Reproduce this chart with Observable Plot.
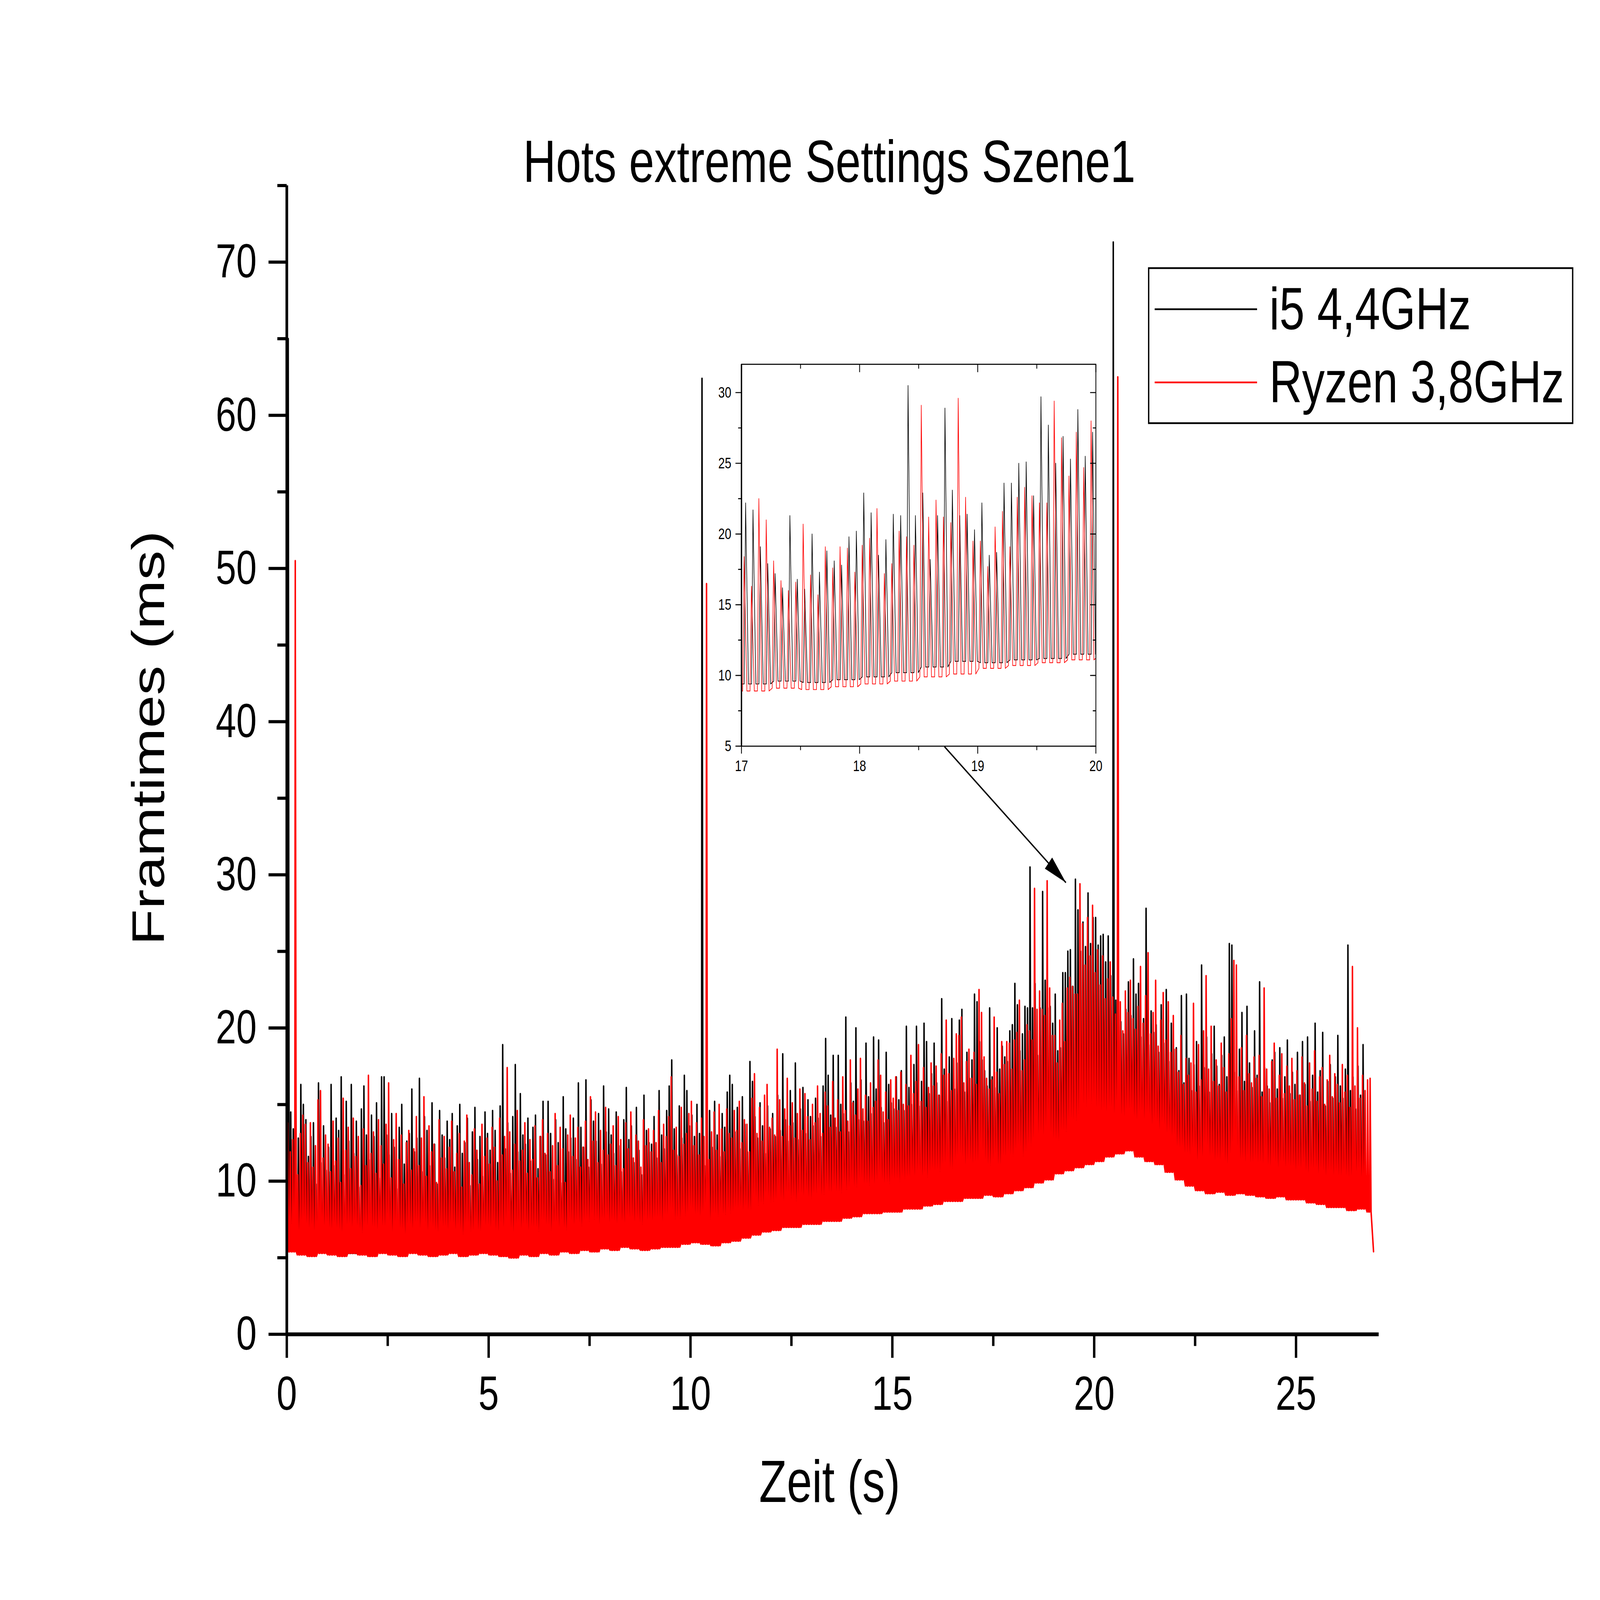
<!DOCTYPE html>
<html>
<head>
<meta charset="utf-8">
<script src="https://cdn.jsdelivr.net/npm/d3@7"></script>
<script src="https://cdn.jsdelivr.net/npm/@observablehq/plot@0.6"></script>
<style>
html,body{margin:0;padding:0;background:#fff;overflow:hidden;}
#wrap{position:relative;overflow:hidden;background:#fff;}
#root{position:absolute;left:0;top:0;width:6000px;height:4592px;overflow:hidden;background:#fff;font-family:"Liberation Sans",Arial,sans-serif;color:#000;transform-origin:0 0;}
.abs{position:absolute;white-space:nowrap;line-height:1;}
</style>
</head>
<body>
<div id="wrap"><div id="root"></div></div>
<script>
// ---------------- DATA ----------------
const seriesNames = ["i5 4,4GHz", "Ryzen 3,8GHz"];
const seriesColors = ["#000000", "#ff0000"];

// spike (frame-time peak) values, 16 per second
const i5Peaks = [
  65,14.5,13.4,14.6,12.8,16.3,15.0,14.0,11.6,12.9,13.8,9.8,16.4,11.2,13.6,10.7,
  12.2,16.3,11.0,14.1,13.3,16.8,10.4,15.2,12.6,16.3,11.8,13.9,9.6,14.7,16.2,13.0,
  11.4,14.3,12.9,15.1,10.2,16.8,16.8,13.0,11.7,14.4,12.2,9.5,13.5,15.0,11.1,12.6,
  13.1,16.0,11.9,12.8,16.7,10.6,14.2,13.3,11.0,15.1,12.4,9.8,14.6,13.0,11.5,13.9,
  12.7,14.4,10.9,13.6,15.0,11.8,12.5,14.1,9.7,13.2,14.8,11.4,12.9,10.3,14.5,13.1,
  12.0,14.6,13.3,11.2,14.9,18.9,12.1,13.8,10.5,14.2,17.6,11.9,15.7,13.0,12.4,14.1,
  11.3,13.5,14.3,10.8,12.9,15.2,11.7,15.2,13.1,10.1,14.0,12.5,9.9,15.5,13.4,11.9,
  12.8,14.1,11.4,16.4,13.5,12.2,16.6,10.9,15.3,13.9,12.6,14.4,11.1,16.2,13.2,14.7,
  13.0,11.8,14.5,12.3,10.6,14.0,16.1,12.7,13.6,11.2,14.8,12.0,10.4,15.6,13.3,12.5,
  12.4,14.2,11.5,15.9,13.0,12.1,14.6,16.2,17.9,13.4,11.7,14.9,12.8,16.9,15.9,13.6,
  14.3,12.9,15.0,13.1,62.4,11.0,13.8,14.6,12.2,15.2,13.0,11.6,14.4,13.5,15.8,16.9,
  16.3,13.2,14.8,12.1,15.5,13.7,11.9,17.8,16.5,14.2,12.8,15.1,13.6,11.8,14.9,13.4,
  14.4,12.9,15.6,13.3,18.3,14.0,12.6,15.9,13.8,17.7,12.7,14.7,16.1,13.1,15.3,14.2,
  13.6,15.4,14.1,12.9,16.2,19.3,16.9,14.3,18.2,13.5,18.2,15.0,14.4,20.7,13.2,16.4,
  15.2,20.0,14.0,16.6,13.9,19.0,15.5,14.4,19.4,16.0,19.2,14.8,13.8,18.4,16.3,15.1,
  14.7,16.8,15.3,17.2,14.6,20.1,16.1,15.0,17.6,20.1,14.9,16.5,20.3,19.1,15.7,17.0,
  19.0,16.4,15.6,21.9,17.3,15.2,18.1,20.6,16.0,17.7,20.5,21.2,15.8,18.4,16.7,17.9,
  22.2,21.7,19.1,17.9,17.2,16.2,21.3,16.8,16.1,20.0,17.3,18.8,18.1,17.8,19.8,20.2,
  22.9,21.5,18.5,19.6,21.4,21.3,30.5,21.3,22.9,18.2,21.3,28.9,23.1,21.3,21.4,20.3,
  22.2,18.5,18.7,23.6,23.6,25.0,25.1,22.7,29.7,27.7,25.0,26.9,25.3,28.8,25.5,27.2,
  27.2,25.4,26.0,26.1,24.3,26.0,23.4,71.3,21.8,22.5,20.4,19.6,21.2,23.0,20.8,24.5,
  22.2,22.9,19.4,20.6,27.8,18.9,21.1,19.7,20.2,18.4,21.5,19.0,22.5,17.8,20.3,18.6,
  18.7,17.2,22.1,16.4,22.2,18.0,15.9,17.6,19.1,16.2,24.1,17.4,19.4,15.8,18.3,20.1,
  17.5,16.3,18.2,19.4,16.8,25.5,25.4,17.1,15.9,18.6,21.0,16.5,21.4,17.7,16.1,19.8,
  16.9,23.0,15.8,17.4,16.2,15.1,17.9,18.4,16.0,18.7,15.4,16.8,19.2,15.7,17.1,16.3,
  18.4,15.6,19.1,16.3,19.4,15.2,16.9,20.3,15.8,17.2,19.7,14.9,16.5,17.6,15.4,16.8,
  19.5,16.2,15.4,17.3,25.4,15.9,16.8,14.7,17.5,15.6,18.9
];
const ryzenPeaks = [
  13.8,11.9,12.7,50.5,10.4,13.1,14.3,13.7,11.2,13.8,10.9,12.3,15.3,15.9,11.5,13.0,
  12.4,10.6,13.9,11.3,12.8,9.9,15.4,12.0,13.5,10.8,14.1,11.6,12.9,9.7,13.4,11.0,
  16.9,11.8,13.2,10.5,14.0,12.3,11.1,13.7,16.4,10.2,12.7,14.4,11.4,13.0,9.8,12.5,
  13.3,10.7,12.1,14.2,11.0,12.8,15.5,10.3,13.6,11.9,12.4,9.9,14.0,11.5,12.9,10.8,
  12.2,13.9,10.6,11.8,13.1,9.6,12.6,14.3,11.2,10.4,13.4,12.0,9.8,13.7,11.6,12.8,
  11.1,13.5,12.2,10.0,14.1,11.7,12.9,17.4,13.2,10.7,12.4,14.6,11.3,12.0,13.8,10.5,
  12.7,11.4,13.6,10.2,12.9,14.0,11.8,13.1,10.6,12.3,14.4,11.0,13.5,12.1,9.9,13.0,
  14.3,11.6,12.8,13.5,10.9,12.2,13.9,11.4,15.5,12.6,14.5,11.2,13.3,12.0,14.8,11.7,
  12.4,13.6,11.0,14.2,12.7,10.8,13.8,12.1,14.5,11.5,13.0,12.6,10.9,14.0,12.3,13.4,
  11.9,13.3,12.5,14.6,11.2,13.7,12.9,14.2,16.8,12.0,13.5,11.6,14.8,12.4,13.1,14.4,
  15.2,12.3,13.8,11.7,14.1,12.9,49.0,11.4,13.2,14.5,12.0,15.0,13.4,11.9,14.7,13.1,
  12.8,14.6,13.3,15.2,12.5,14.0,13.7,11.9,15.4,17.0,13.1,14.8,12.6,15.6,16.3,13.5,
  14.1,13.0,18.6,15.3,12.9,14.7,16.7,13.6,15.1,12.8,14.4,16.0,13.3,15.7,14.2,12.7,
  15.0,13.8,16.2,14.4,13.1,15.8,14.9,13.5,16.5,14.1,15.3,13.2,16.8,14.6,13.9,17.9,
  15.1,14.3,16.0,18.0,14.7,15.6,13.9,16.4,14.8,15.2,17.9,16.9,14.5,15.8,14.0,16.6,
  15.4,16.8,14.6,17.1,15.0,16.3,14.9,18.2,15.7,16.5,18.9,15.2,17.4,14.8,16.1,17.7,
  16.2,17.5,15.6,18.3,16.9,20.5,17.0,15.9,18.0,19.6,19.5,20.7,16.4,17.8,18.6,16.7,
  18.4,16.3,22.5,21.0,18.1,16.7,16.0,16.6,20.7,17.1,15.7,19.1,17.6,19.1,19.0,17.3,
  19.2,19.7,21.8,17.2,17.9,20.2,19.8,19.2,29.1,21.2,22.4,21.2,20.8,29.6,22.6,19.5,
  19.5,17.7,20.5,21.6,19.1,22.6,23.3,22.7,22.2,22.2,29.4,26.8,24.1,27.2,24.7,28.0,
  23.6,25.1,22.8,24.7,21.9,23.2,24.3,22.0,20.9,62.5,21.7,19.8,22.4,21.0,23.1,20.6,
  19.9,21.4,24.0,20.3,22.1,24.9,19.6,21.0,23.1,18.8,20.5,22.3,19.2,21.7,18.4,20.8,
  18.6,17.1,19.5,16.3,18.0,16.9,17.7,21.6,15.8,18.9,16.6,19.8,23.4,17.3,20.1,16.5,
  17.9,16.2,19.0,17.4,15.8,18.3,20.6,24.4,24.1,16.8,18.7,15.9,19.5,17.0,16.4,18.1,
  16.7,18.2,15.5,22.6,17.3,16.0,17.8,19.0,15.4,16.9,18.3,15.7,17.5,16.2,18.0,15.3,
  17.2,15.6,18.1,16.4,14.9,17.7,16.0,18.5,15.2,16.8,17.4,15.0,16.6,18.2,15.5,17.0,
  16.3,15.1,17.6,15.8,16.9,14.8,24.0,16.2,20.0,15.4,16.9,15.9,16.6,16.7
];
// baseline frame time between spikes, one value per quarter second
const i5Base = [
  5.7,5.5,5.4,5.6,5.5,5.4,5.3,5.5,5.6,5.4,5.3,5.5,5.6,5.4,5.3,5.5,5.4,5.3,5.6,5.4,
  5.4,5.6,5.3,5.5,5.6,5.4,5.5,5.6,5.5,5.7,5.6,5.8,5.7,5.9,5.8,6.0,5.9,6.0,6.0,6.2,
  6.2,6.4,6.1,6.3,6.4,6.6,6.8,7.0,7.1,7.3,7.3,7.5,7.6,7.8,7.8,8.0,8.1,8.3,8.3,8.5,
  8.5,8.7,8.7,8.9,8.9,9.2,9.2,9.4,9.4,9.6,9.5,9.7,9.9,10.2,10.6,11.0,10.9,11.1,11.2,11.5,
  11.6,11.9,11.9,12.1,11.8,11.5,11.2,10.7,10.3,9.8,9.6,9.3,9.4,9.2,9.4,9.2,9.2,9.0,9.1,8.9,
  8.9,8.7,8.6,8.4,8.4,8.2,8.3,8.2
];
const ryzenBase = [
  5.4,5.2,5.1,5.3,5.2,5.1,5.3,5.2,5.1,5.3,5.2,5.1,5.3,5.2,5.1,5.2,5.3,5.1,5.2,5.3,
  5.2,5.1,5.0,5.2,5.1,5.3,5.2,5.4,5.3,5.5,5.4,5.6,5.5,5.7,5.6,5.5,5.6,5.7,5.7,5.9,
  6.0,5.9,5.8,6.0,6.1,6.3,6.5,6.7,6.8,7.0,7.0,7.2,7.2,7.4,7.4,7.6,7.7,7.9,7.9,8.0,
  8.0,8.2,8.2,8.4,8.5,8.7,8.7,8.9,8.9,9.1,9.0,9.2,9.4,9.6,9.9,10.1,10.5,10.7,10.9,11.1,
  11.3,11.6,11.8,12.0,11.6,11.3,11.1,10.6,10.1,9.7,9.4,9.2,9.3,9.1,9.2,9.1,9.0,8.9,9.0,8.8,
  8.8,8.6,8.5,8.3,8.3,8.1,8.2,8.0
];
const basePerSecond = 4;
const peakStep = 1 / 16;          // seconds between spikes
const i5Offset = 0.035;           // time of first i5 spike (s)
const ryzenOffset = 0.022;        // time of first Ryzen spike (s)
const riseTime = 0.012, fallTime = 0.024;
const ryzenTail = [26.92, 5.4];   // last Ryzen frame (time, ms)

// axes
const xTicks = [0, 5, 10, 15, 20, 25];
const xMinor = [2.5, 7.5, 12.5, 17.5, 22.5];
const yTicks = [0, 10, 20, 30, 40, 50, 60, 70];
const yMinor = [5, 15, 25, 35, 45, 55, 65, 75];
const insetXTicks = [17, 18, 19, 20];
const insetXMinor = [17.5, 18.5, 19.5];
const insetYTicks = [5, 10, 15, 20, 25, 30];
const insetYMinor = [7.5, 12.5, 17.5, 22.5, 27.5];
// arrow from inset to the zoomed region (data coordinates: s, ms)
const arrowFrom = [16.29, 38.37];
const arrowTo = [19.30, 29.49];

// ---------------- BUILD ----------------
function build(peaks, base, offset, series) {
  const pts = [];
  peaks.forEach((p, i) => {
    const t = offset + i * peakStep;
    const b = base[Math.min(base.length - 1, Math.floor(t * basePerSecond))];
    if (t - riseTime >= 0) pts.push({t: t - riseTime, v: b, series});
    pts.push({t, v: p, series});
    pts.push({t: t + fallTime, v: b, series});
  });
  return pts;
}
const i5 = build(i5Peaks, i5Base, i5Offset, seriesNames[0]);
const ry = build(ryzenPeaks, ryzenBase, ryzenOffset, seriesNames[1]);
ry.push({t: ryzenTail[0], v: ryzenTail[1], series: seriesNames[1]});

const FONT = '"Liberation Sans", Arial, sans-serif';
const W = 6000, H = 4592;
const xMax = 27.05, yMax = 75;
const M = {top: 532, right: 830, bottom: 763, left: 1075};
const pxX = (W - M.left - M.right) / xMax;
const pxY = (H - M.top - M.bottom) / yMax;
const adx = (arrowTo[0] - arrowFrom[0]) * pxX;
const ady = (arrowFrom[1] - arrowTo[1]) * pxY;
const arrowAngle = Math.atan2(adx, -ady) * 180 / Math.PI;

const main = Plot.plot({
  width: W, height: H,
  marginTop: M.top, marginRight: M.right, marginBottom: M.bottom, marginLeft: M.left,
  x: {domain: [0, xMax], axis: null},
  y: {domain: [0, yMax], axis: null},
  style: {fontFamily: FONT, background: "white", color: "black"},
  marks: [
    Plot.line(i5, {x: "t", y: "v", stroke: seriesColors[0], strokeWidth: 5.5}),
    Plot.line(ry, {x: "t", y: "v", stroke: seriesColors[1], strokeWidth: 5.5}),
    Plot.ruleX([0], {stroke: "black", strokeWidth: 10}),
    Plot.ruleY([0], {stroke: "black", strokeWidth: 11}),
    Plot.axisX({ticks: xTicks, tickSize: 68, tickPadding: 50, fontSize: 138, strokeWidth: 9, label: null, tickFormat: d => String(d)}),
    Plot.axisX({ticks: xMinor, tickSize: 34, strokeWidth: 9, tickFormat: () => "", label: null}),
    Plot.axisY({ticks: yTicks, tickSize: 68, tickPadding: 45, fontSize: 138, strokeWidth: 9, label: null, tickFormat: d => String(d)}),
    Plot.axisY({ticks: yMinor, tickSize: 35, strokeWidth: 9, tickFormat: () => "", label: null}),
    Plot.link([{x1: arrowFrom[0], y1: arrowFrom[1], x2: arrowTo[0], y2: arrowTo[1]}],
      {x1: "x1", y1: "y1", x2: "x2", y2: "y2", stroke: "black", strokeWidth: 4.5}),
    Plot.vector([{x: arrowTo[0], y: arrowTo[1]}],
      {x: "x", y: "y", length: 86, r: 21, rotate: arrowAngle, shape: "spike", anchor: "end", fill: "black", stroke: "none"})
  ]
});
main.style.position = "absolute";
main.style.left = "0px";
main.style.top = "0px";
main.style.maxWidth = "none";

// inset (zoom of 17–20 s)
const IM = {top: 20, right: 30, bottom: 100, left: 100};
const inset = Plot.plot({
  width: 1329 + IM.left + IM.right, height: 1096 + IM.top + IM.bottom,
  marginTop: IM.top, marginRight: IM.right, marginBottom: IM.bottom, marginLeft: IM.left,
  x: {domain: [17, 20], axis: null},
  y: {domain: [5, 32], axis: null},
  style: {fontFamily: FONT, background: "transparent", color: "black"},
  marks: [
    Plot.frame({fill: "white", stroke: null}),
    Plot.line(i5.filter(d => d.t > 16.8 && d.t < 20.2), {x: "t", y: "v", stroke: seriesColors[0], strokeWidth: 2.2, clip: true}),
    Plot.line(ry.filter(d => d.t > 16.8 && d.t < 20.2), {x: "t", y: "v", stroke: seriesColors[1], strokeWidth: 2.2, clip: true}),
    Plot.frame({stroke: "black", strokeWidth: 3}),
    Plot.ruleX([17], {stroke: "black", strokeWidth: 5}),
    Plot.axisX({ticks: insetXTicks, tickSize: 22, tickPadding: 18, fontSize: 44, strokeWidth: 3, label: null, tickFormat: d => String(d)}),
    Plot.axisX({ticks: insetXMinor, tickSize: 12, strokeWidth: 3, tickFormat: () => "", label: null}),
    Plot.axisX({anchor: "top", ticks: insetXTicks, tickSize: 22, dy: 22, strokeWidth: 3, tickFormat: () => "", label: null}),
    Plot.axisX({anchor: "top", ticks: insetXMinor, tickSize: 12, dy: 12, strokeWidth: 3, tickFormat: () => "", label: null}),
    Plot.axisY({ticks: insetYTicks, tickSize: 22, tickPadding: 16, fontSize: 44, strokeWidth: 3, label: null, tickFormat: d => String(d)}),
    Plot.axisY({ticks: insetYMinor, tickSize: 12, strokeWidth: 3, tickFormat: () => "", label: null}),
    Plot.axisY({anchor: "right", ticks: insetYTicks, tickSize: 22, dx: -22, strokeWidth: 3, tickFormat: () => "", label: null}),
    Plot.axisY({anchor: "right", ticks: insetYMinor, tickSize: 12, dx: -12, strokeWidth: 3, tickFormat: () => "", label: null})
  ]
});
inset.style.position = "absolute";
inset.style.left = (2780 - IM.left) + "px";
inset.style.top = (1045 - IM.top) + "px";
inset.style.maxWidth = "none";

const root = document.getElementById("root");
root.appendChild(main);
root.appendChild(inset);

function addText(txt, {left, baseline, size, center = false}) {
  const d = document.createElement("div");
  d.className = "abs";
  d.textContent = txt;
  d.style.fontSize = size + "px";
  d.style.left = left + "px";
  d.style.top = (baseline - 0.8465 * size) + "px";
  if (center) d.style.transform = "translateX(-50%)";
  root.appendChild(d);
  return d;
}
addText("Hots extreme Settings Szene1", {left: 3110, baseline: 522, size: 170, center: true});
addText("Zeit (s)", {left: 3111, baseline: 4311, size: 170, center: true});
const yl = document.createElement("div");
yl.className = "abs";
yl.textContent = "Framtimes (ms)";
yl.style.fontSize = "170px";
yl.style.left = "556px";
yl.style.top = "2118px";
yl.style.transform = "translate(-50%,-50%) rotate(-90deg)";
root.appendChild(yl);

// legend
const box = document.createElement("div");
box.className = "abs";
Object.assign(box.style, {left: "4305px", top: "767px", width: "1595px", height: "450px",
  border: "5px solid #000", boxSizing: "border-box", background: "#fff"});
root.appendChild(box);
const legendY = [887, 1097];
seriesNames.forEach((name, i) => {
  const ln = document.createElement("div");
  ln.className = "abs";
  Object.assign(ln.style, {left: "4330px", top: (legendY[i] - 2) + "px", width: "384px", height: "4.5px", background: seriesColors[i]});
  root.appendChild(ln);
  addText(name, {left: 4760, baseline: legendY[i] + 58, size: 170});
});

// the 6000×4592 layout is fitted to the browser window (which may be smaller)
const wrap = document.getElementById("wrap");
function fit() {
  const w = window.innerWidth || W, h = window.innerHeight || H;
  let sx = w / W, sy = h / H;
  if (!(sx > 0)) sx = 1;
  if (!(sy > 0)) sy = 1;
  sx = Math.min(sx, 1); sy = Math.min(sy, 1);
  root.style.transform = (sx < 1 || sy < 1) ? `scale(${sx}, ${sy})` : "none";
  wrap.style.width = (W * sx) + "px";
  wrap.style.height = (H * sy) + "px";
}
fit();
window.addEventListener("resize", fit);
</script>
</body>
</html>
